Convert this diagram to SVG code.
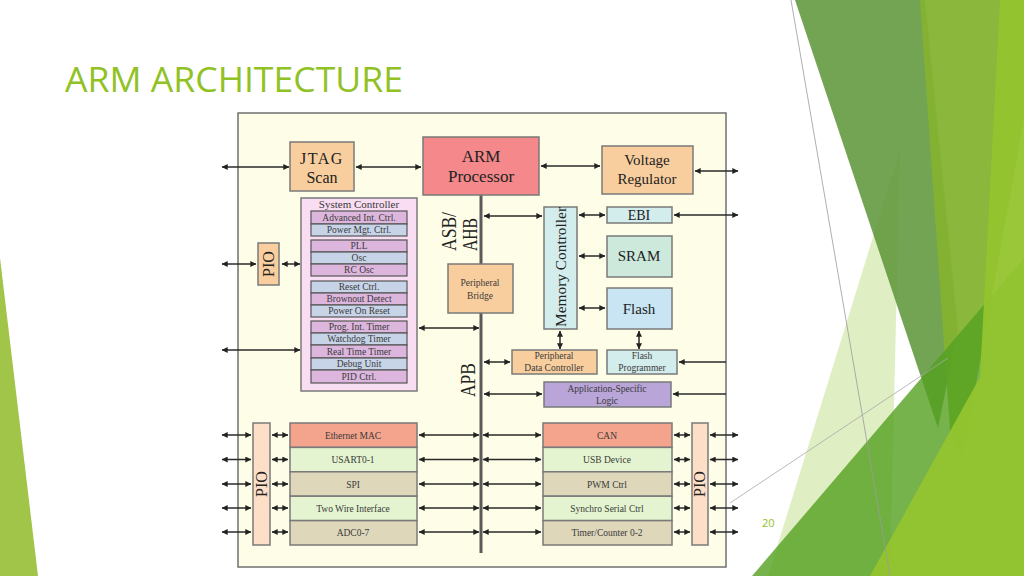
<svg xmlns="http://www.w3.org/2000/svg" width="1024" height="576" viewBox="0 0 1024 576">
<defs>
<marker id="ah" viewBox="0 0 10 10" refX="9.5" refY="5" markerWidth="7" markerHeight="6" markerUnits="userSpaceOnUse" orient="auto-start-reverse">
<path d="M0,0 L10,5 L0,10 z" fill="#222"/>
</marker>
<style>
.bx{stroke:#7a7a7a;stroke-width:1.5}
.in{stroke:#555;stroke-width:1.2}
.peach{fill:#F9CE9E}
.arm{fill:#F4888A}
.cy{fill:#D3ECEC}
.sram{fill:#CDE9DC}
.fl{fill:#C9E5F3}
.asl{fill:#B9A5D8}
.sal{fill:#F4A38C}
.lg{fill:#E4F4D0}
.tan{fill:#DED7BA}
.pio{fill:#FDDEC6}
.pk{fill:#DDB6DE}
.bl{fill:#C7D4E8}
.t{font-family:"Liberation Serif","DejaVu Serif",serif;fill:#222;text-anchor:middle}
.s{font-family:"Liberation Serif","DejaVu Serif",serif;fill:#3a3a3a;text-anchor:middle;font-size:9.5px}
.c line{stroke:#2a2a2a;stroke-width:1.5;marker-start:url(#ah);marker-end:url(#ah)}
.c line.one{marker-start:none}
</style>
</defs>
<rect width="1024" height="576" fill="#ffffff"/>
<!-- background decoration -->
<g id="decor">
<polygon points="0,258 0,576 38,576" fill="#A0C548"/>
<polygon points="900,150 768,576 890,576" fill="#90C226" fill-opacity="0.28"/>
<polygon points="795,0 925,0 958,330 938,428" fill="#5A9435" fill-opacity="0.85"/>
<polygon points="920,0 1024,0 1024,120 962,460 950,430" fill="#84B331" fill-opacity="0.95"/>
<polygon points="752,576 1024,258 1024,576" fill="#54A021" fill-opacity="0.8"/>
<polygon points="1000,0 1024,0 1024,576 870,576 980,377" fill="#93C42E" fill-opacity="0.95"/>
<line x1="791" y1="0" x2="890" y2="576" stroke="#9a9a9a" stroke-width="0.8"/>
<line x1="730" y1="503" x2="948" y2="358" stroke="#a8a8a8" stroke-width="0.8"/>
</g>
<text x="65" y="92" font-family="'Open Sans','DejaVu Sans',sans-serif" font-size="35" fill="#90C226" textLength="338" lengthAdjust="spacingAndGlyphs">ARM ARCHITECTURE</text>
<text x="762" y="527" font-family="'Open Sans','DejaVu Sans',sans-serif" font-size="11" fill="#90C226">20</text>
<!-- diagram frame -->
<rect id="frame" x="238" y="113" width="488" height="454" fill="#FEFDE7" stroke="#707070" stroke-width="1.5"/>
<!-- bus -->
<g id="bus">
<line x1="481" y1="195" x2="481" y2="553" stroke="#5a5a5a" stroke-width="3"/>
<text class="t" font-size="20" transform="translate(456,251) rotate(-90)" style="text-anchor:start" textLength="39" lengthAdjust="spacingAndGlyphs">ASB/</text>
<text class="t" font-size="20" transform="translate(477,251) rotate(-90)" style="text-anchor:start" textLength="33" lengthAdjust="spacingAndGlyphs">AHB</text>
<text class="t" font-size="20" transform="translate(475,397) rotate(-90)" style="text-anchor:start" textLength="34" lengthAdjust="spacingAndGlyphs">APB</text>
</g>
<g class="c" id="connectors">
<line x1="222" y1="167" x2="289" y2="167"/>
<line x1="356" y1="167" x2="421" y2="167"/>
<line x1="541" y1="166" x2="600" y2="166"/>
<line x1="695" y1="171" x2="738" y2="171"/>
<line x1="222" y1="264" x2="256" y2="264"/>
<line x1="282" y1="264" x2="300" y2="264"/>
<line x1="222" y1="350" x2="300" y2="350"/>
<line x1="419" y1="328" x2="479" y2="328"/>
<line x1="484" y1="216" x2="542" y2="216"/>
<line x1="579" y1="215" x2="605" y2="215"/>
<line x1="674" y1="215" x2="738" y2="215"/>
<line x1="579" y1="256" x2="605" y2="256"/>
<line x1="579" y1="308" x2="605" y2="308"/>
<line x1="560" y1="331" x2="560" y2="349"/>
<line x1="639" y1="331" x2="639" y2="349"/>
<line x1="484" y1="362" x2="510" y2="362"/>
<line class="one" x1="726" y1="362" x2="679" y2="362"/>
<line x1="484" y1="394" x2="542" y2="394"/>
<line class="one" x1="726" y1="394" x2="673" y2="394"/>
<line x1="222" y1="435" x2="251" y2="435"/>
<line x1="222" y1="459.5" x2="251" y2="459.5"/>
<line x1="222" y1="484" x2="251" y2="484"/>
<line x1="222" y1="508" x2="251" y2="508"/>
<line x1="222" y1="532" x2="251" y2="532"/>
<line x1="272" y1="435" x2="288" y2="435"/>
<line x1="272" y1="459.5" x2="288" y2="459.5"/>
<line x1="272" y1="484" x2="288" y2="484"/>
<line x1="272" y1="508" x2="288" y2="508"/>
<line x1="272" y1="532" x2="288" y2="532"/>
<line x1="419" y1="435" x2="479" y2="435"/>
<line x1="419" y1="459.5" x2="479" y2="459.5"/>
<line x1="419" y1="484" x2="479" y2="484"/>
<line x1="419" y1="508" x2="479" y2="508"/>
<line x1="419" y1="532" x2="479" y2="532"/>
<line x1="483" y1="435" x2="541" y2="435"/>
<line x1="483" y1="459.5" x2="541" y2="459.5"/>
<line x1="483" y1="484" x2="541" y2="484"/>
<line x1="483" y1="508" x2="541" y2="508"/>
<line x1="483" y1="532" x2="541" y2="532"/>
<line x1="674" y1="435" x2="690" y2="435"/>
<line x1="674" y1="459.5" x2="690" y2="459.5"/>
<line x1="674" y1="484" x2="690" y2="484"/>
<line x1="674" y1="508" x2="690" y2="508"/>
<line x1="674" y1="532" x2="690" y2="532"/>
<line x1="710" y1="435" x2="738" y2="435"/>
<line x1="710" y1="459.5" x2="738" y2="459.5"/>
<line x1="710" y1="484" x2="738" y2="484"/>
<line x1="710" y1="508" x2="738" y2="508"/>
<line x1="710" y1="532" x2="738" y2="532"/>
</g>
<g id="jtag"><rect class="bx peach" x="290" y="142" width="64" height="49"/><text class="t" x="322" y="164" font-size="16" letter-spacing="1.5">JTAG</text><text class="t" x="322" y="183" font-size="16">Scan</text></g>
<g id="arm"><rect class="bx arm" x="423" y="137" width="116" height="58"/><text class="t" x="481" y="162" font-size="17">ARM</text><text class="t" x="481" y="182" font-size="17">Processor</text></g>
<g id="vreg"><rect class="bx peach" x="602" y="146" width="91" height="48"/><text class="t" x="647" y="165" font-size="15">Voltage</text><text class="t" x="647" y="184" font-size="15">Regulator</text></g>
<g id="pio-top"><rect class="bx peach" x="258" y="243" width="21" height="42"/><text class="t" font-size="16" transform="translate(274,264) rotate(-90)">PIO</text></g>
<g id="sysctrl">
<rect class="bx" fill="#F9DDF3" x="301" y="198" width="116" height="193"/>
<text class="s" x="359" y="208" style="font-size:11px">System Controller</text>
<g class="in">
<rect class="pk" x="311" y="211" width="96" height="13"/><rect class="bl" x="311" y="224" width="96" height="12"/>
<rect class="pk" x="311" y="240" width="96" height="12"/><rect class="bl" x="311" y="252" width="96" height="12"/><rect class="pk" x="311" y="264" width="96" height="12"/>
<rect class="bl" x="311" y="281" width="96" height="12"/><rect class="pk" x="311" y="293" width="96" height="12"/><rect class="bl" x="311" y="305" width="96" height="12"/>
<rect class="pk" x="311" y="321" width="96" height="12"/><rect class="bl" x="311" y="333" width="96" height="12"/><rect class="pk" x="311" y="345" width="96" height="13"/><rect class="bl" x="311" y="358" width="96" height="12"/><rect class="pk" x="311" y="370" width="96" height="13"/>
</g>
<text class="s" x="359" y="221">Advanced Int. Ctrl.</text>
<text class="s" x="359" y="233">Power Mgt. Ctrl.</text>
<text class="s" x="359" y="249">PLL</text>
<text class="s" x="359" y="261">Osc</text>
<text class="s" x="359" y="273">RC Osc</text>
<text class="s" x="359" y="290">Reset Ctrl.</text>
<text class="s" x="359" y="302">Brownout Detect</text>
<text class="s" x="359" y="314">Power On Reset</text>
<text class="s" x="359" y="330">Prog. Int. Timer</text>
<text class="s" x="359" y="342">Watchdog Timer</text>
<text class="s" x="359" y="355">Real Time Timer</text>
<text class="s" x="359" y="367">Debug Unit</text>
<text class="s" x="359" y="380">PID Ctrl.</text>
</g>
<g id="bridge"><rect class="bx peach" x="448" y="264" width="65" height="49"/><text class="s" x="480" y="286">Peripheral</text><text class="s" x="480" y="299">Bridge</text></g>
<g id="memctrl"><rect class="bx cy" x="544" y="207" width="33" height="122"/><text class="t" font-size="15" transform="translate(566,267) rotate(-90)" textLength="120" lengthAdjust="spacingAndGlyphs">Memory Controller</text></g>
<g id="ebi"><rect class="bx cy" x="607" y="207" width="65" height="16"/><text class="t" x="639" y="220" font-size="14">EBI</text></g>
<g id="sram"><rect class="bx sram" x="607" y="236" width="65" height="41"/><text class="t" x="639" y="261" font-size="15">SRAM</text></g>
<g id="flash"><rect class="bx fl" x="607" y="288" width="65" height="41"/><text class="t" x="639" y="314" font-size="15">Flash</text></g>
<g id="pdc"><rect class="bx peach" x="512" y="350" width="85" height="24"/><text class="s" x="554" y="359">Peripheral</text><text class="s" x="554" y="371">Data Controller</text></g>
<g id="fprog"><rect class="bx cy" x="607" y="350" width="70" height="24"/><text class="s" x="642" y="359">Flash</text><text class="s" x="642" y="371">Programmer</text></g>
<g id="asl"><rect class="bx asl" x="544" y="382" width="127" height="25"/><text class="s" x="607" y="392">Application-Specific</text><text class="s" x="607" y="404">Logic</text></g>
<g id="pio-left"><rect class="bx pio" x="253" y="423" width="17" height="122"/><text class="t" font-size="16" transform="translate(267,484) rotate(-90)">PIO</text></g>
<g id="left-stack">
<rect class="bx sal" x="290" y="423" width="127" height="24.4"/>
<rect class="bx lg" x="290" y="447.4" width="127" height="24.4"/>
<rect class="bx tan" x="290" y="471.8" width="127" height="24.4"/>
<rect class="bx lg" x="290" y="496.2" width="127" height="24.4"/>
<rect class="bx tan" x="290" y="520.6" width="127" height="24.4"/>
<text class="s" x="353" y="438.5">Ethernet MAC</text>
<text class="s" x="353" y="463">USART0-1</text>
<text class="s" x="353" y="487.5">SPI</text>
<text class="s" x="353" y="511.5">Two Wire Interface</text>
<text class="s" x="353" y="535.5">ADC0-7</text>
</g>
<g id="right-stack">
<rect class="bx sal" x="543" y="423" width="129" height="24.4"/>
<rect class="bx lg" x="543" y="447.4" width="129" height="24.4"/>
<rect class="bx tan" x="543" y="471.8" width="129" height="24.4"/>
<rect class="bx lg" x="543" y="496.2" width="129" height="24.4"/>
<rect class="bx tan" x="543" y="520.6" width="129" height="24.4"/>
<text class="s" x="607" y="438.5">CAN</text>
<text class="s" x="607" y="463">USB Device</text>
<text class="s" x="607" y="487.5">PWM Ctrl</text>
<text class="s" x="607" y="511.5">Synchro Serial Ctrl</text>
<text class="s" x="607" y="535.5">Timer/Counter 0-2</text>
</g>
<g id="pio-right"><rect class="bx pio" x="692" y="423" width="16" height="122"/><text class="t" font-size="16" transform="translate(705,484) rotate(-90)">PIO</text></g>
</svg>
